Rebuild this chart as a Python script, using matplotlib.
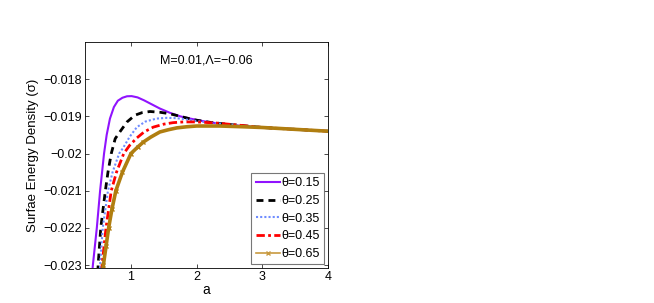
import matplotlib
matplotlib.use('Agg')
import matplotlib.pyplot as plt

plt.rcParams['font.family'] = ['Liberation Sans', 'DejaVu Sans']
plt.rcParams['font.size'] = 9

# valores (a, sigma) para cada theta
a_015 = [0.41, 0.42, 0.45, 0.48, 0.505, 0.53, 0.56, 0.59, 0.63, 0.68, 0.74, 0.80, 0.87, 0.94, 1.01,
         1.10, 1.20, 1.32, 1.44, 1.60, 1.75, 1.90, 2.10, 2.35, 2.70, 3.00, 3.50, 4.00]
s_015 = [-0.0232, -0.0230, -0.0225, -0.0220, -0.0215, -0.0210, -0.0205, -0.0200, -0.0195, -0.01906, -0.01875,
         -0.01858, -0.01850, -0.01846, -0.018456, -0.01849, -0.01857, -0.01868, -0.01879, -0.01891, -0.01900,
         -0.01906, -0.01913, -0.01920, -0.01926, -0.01930, -0.01935, -0.01940]

a_025 = [0.495, 0.50, 0.52, 0.54, 0.575, 0.61, 0.65, 0.70, 0.76, 0.83, 0.94, 1.06, 1.17, 1.29, 1.44,
         1.59, 1.75, 1.95, 2.20, 2.50, 3.00, 3.50, 4.00]
s_025 = [-0.0232, -0.0230, -0.0225, -0.0220, -0.0215, -0.0210, -0.0205, -0.0200, -0.0196, -0.01942, -0.01915,
         -0.01897, -0.01890, -0.01887, -0.01889, -0.01893, -0.01900, -0.01909, -0.01916, -0.01922, -0.01930,
         -0.01935, -0.01940]

a_035 = [0.525, 0.53, 0.55, 0.57, 0.61, 0.65, 0.72, 0.82, 0.88, 0.98, 1.09, 1.22, 1.39, 1.55, 1.70,
         1.90, 2.10, 2.50, 3.00, 3.50, 4.00]
s_035 = [-0.0232, -0.0230, -0.0225, -0.0220, -0.0215, -0.0210, -0.0205, -0.0200, -0.01985, -0.01955, -0.01929,
         -0.01914, -0.01906, -0.01904, -0.01905, -0.01910, -0.01915, -0.01922, -0.01930, -0.01935, -0.01940]

a_045 = [0.555, 0.56, 0.59, 0.62, 0.66, 0.70, 0.78, 0.89, 0.98, 1.09, 1.20, 1.34, 1.50, 1.64, 1.80,
         2.00, 2.30, 2.60, 3.00, 3.50, 4.00]
s_045 = [-0.0232, -0.0230, -0.0225, -0.0220, -0.0215, -0.0210, -0.0205, -0.0200, -0.01978, -0.01958, -0.01942,
         -0.01929, -0.01921, -0.01917, -0.01915, -0.01915, -0.01918, -0.01923, -0.01930, -0.01935, -0.01940]

a_065 = [0.575, 0.58, 0.62, 0.66, 0.71, 0.77, 0.87, 1.00, 1.10, 1.19, 1.30, 1.44, 1.57, 1.70, 1.85,
         2.00, 2.35, 2.70, 3.00, 3.50, 4.00]
s_065 = [-0.0232, -0.0230, -0.0225, -0.0220, -0.0215, -0.0210, -0.0205, -0.0200, -0.01983, -0.01969, -0.01956,
         -0.01942, -0.01936, -0.01931, -0.01928, -0.01926, -0.01926, -0.01928, -0.01930, -0.01935, -0.01940]

fig = plt.figure(figsize=(6.54, 3.03), dpi=100)
ax = fig.add_axes([85/654, 1 - 268/303, 243/654, 226/303])

ax.plot(a_015, s_015, color='#9013FE', lw=1.5, label='θ=0.15')
ax.plot(a_025, s_025, color='black', lw=2, ls=(0, (2.5, 1.8)), label='θ=0.25')
ax.plot(a_035, s_035, color='#6f8cff', lw=1.5, ls=(0, (1, 1)), label='θ=0.35')
ax.plot(a_045, s_045, color='red', lw=2, ls=(0, (3, 1.2, 1, 1.2)), label='θ=0.45')
ax.plot(a_065, s_065, color='#B07E10', lw=2.6, marker='x', ms=3, mew=1,
        markevery=list(range(1, 10)), label='θ=0.65')

ax.set_xlim(0.3, 4)
ax.set_ylim(-0.02308, -0.017)
ax.set_xticks([1, 2, 3, 4])
ax.set_yticks([-0.018, -0.019, -0.02, -0.021, -0.022, -0.023])
ax.set_yticklabels(['−0.018', '−0.019', '−0.02', '−0.021', '−0.022', '−0.023'])
ax.tick_params(direction='in', top=True, right=True, length=3, width=0.5, labelsize=9, pad=2)
for sp in ax.spines.values():
    sp.set_linewidth(0.6)

ax.set_xlabel('a', fontsize=10, labelpad=0)
ax.set_ylabel('Surfae Energy Density (σ)', fontsize=9.5, labelpad=3)
ax.text(0.5, 0.92, 'M=0.01,Λ=−0.06', transform=ax.transAxes, ha='center', va='center', fontsize=9)

leg = ax.legend(loc='lower right', fontsize=9, frameon=True, fancybox=False,
                edgecolor='#555555', handlelength=1.9, handletextpad=0.15,
                labelspacing=0.45, borderaxespad=0.3, borderpad=0.35)
leg.get_frame().set_linewidth(0.8)
# linha do theta=0.65 mais fina na legenda, com um marcador
h = leg.get_lines()[4]
h.set_linewidth(1.2)
h.set_color('#C89A40')

fig.savefig('out.png', dpi=100)
